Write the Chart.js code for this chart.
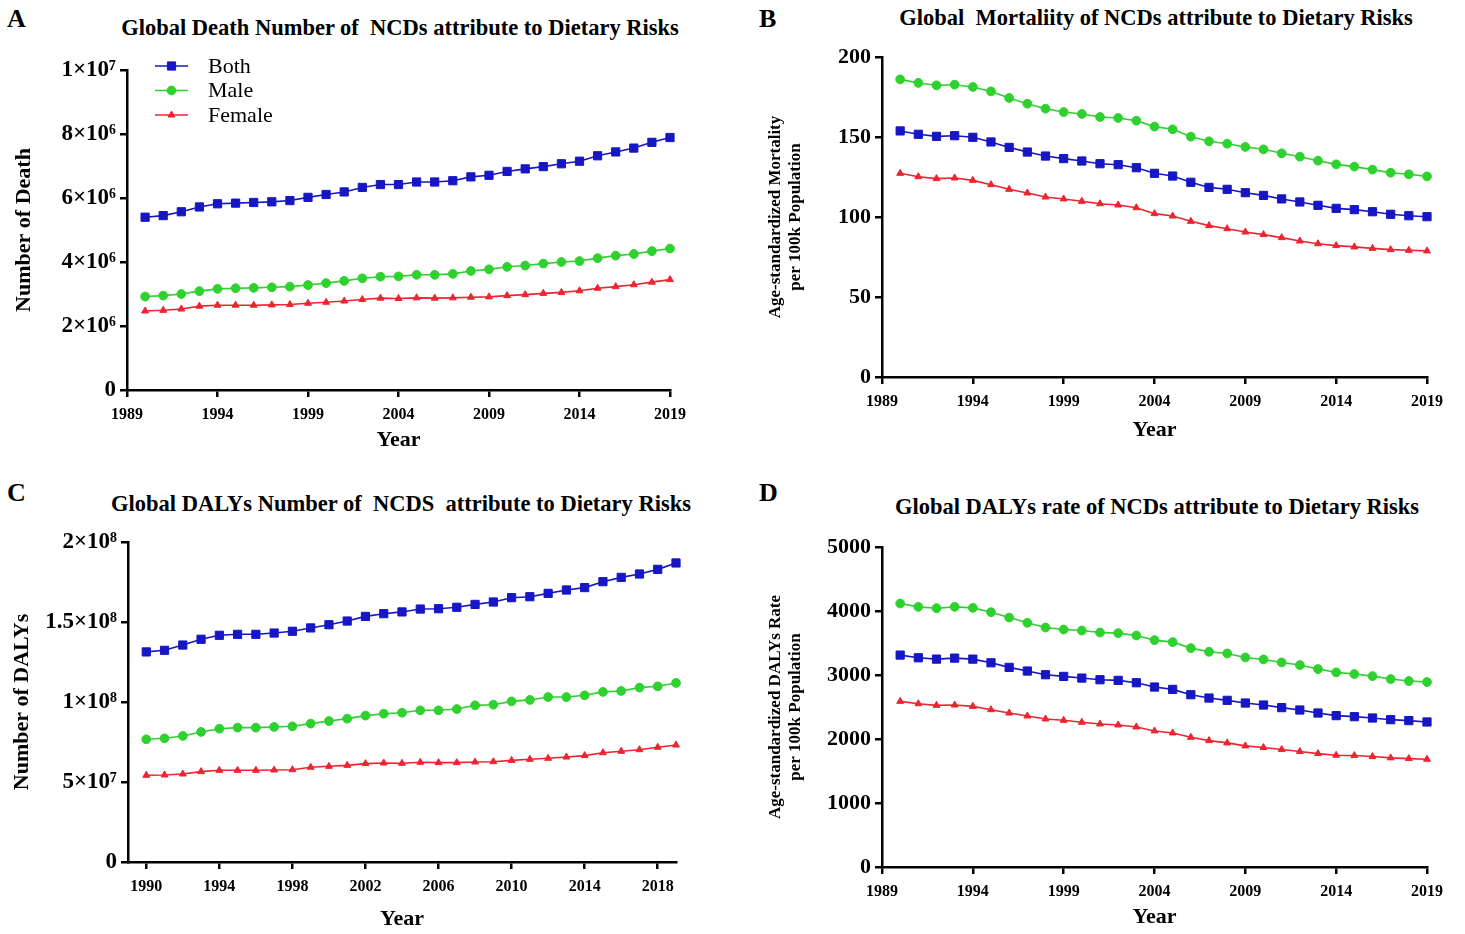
<!DOCTYPE html>
<html>
<head>
<meta charset="utf-8">
<script src="https://cdn.jsdelivr.net/npm/chart.js@4.4.0/dist/chart.umd.min.js"></script>
<style>
  body { margin: 0; background: #fff; width: 1465px; height: 934px; position: relative; overflow: hidden; font-family: "Liberation Serif", serif; }
  .panel { position: absolute; }
  .ttl { position: absolute; font-weight: bold; font-size: 22.5px; line-height: 1; white-space: pre; transform: translateX(-50%); }
  .lab { position: absolute; font-weight: bold; font-size: 26px; line-height: 1; }
</style>
</head>
<body>
<div class="lab" style="left:7px;top:6px">A</div>
<div class="lab" style="left:759px;top:6px">B</div>
<div class="lab" style="left:7px;top:480px">C</div>
<div class="lab" style="left:759px;top:480px">D</div>
<div class="ttl" style="left:400px;top:17px">Global Death Number of  NCDs attribute to Dietary Risks</div>
<div class="ttl" style="left:1156px;top:7px">Global  Mortaliity of NCDs attribute to Dietary Risks</div>
<div class="ttl" style="left:401px;top:493px">Global DALYs Number of  NCDS  attribute to Dietary Risks</div>
<div class="ttl" style="left:1157px;top:496px">Global DALYs rate of NCDs attribute to Dietary Risks</div>

<div class="panel" style="left:0;top:0;width:732px;height:467px"><canvas id="chartA"></canvas></div>
<div class="panel" style="left:732px;top:0;width:733px;height:467px"><canvas id="chartB"></canvas></div>
<div class="panel" style="left:0;top:467px;width:732px;height:467px"><canvas id="chartC"></canvas></div>
<div class="panel" style="left:732px;top:467px;width:733px;height:467px"><canvas id="chartD"></canvas></div>

<script>
const years = [1990, 1991, 1992, 1993, 1994, 1995, 1996, 1997, 1998, 1999,
               2000, 2001, 2002, 2003, 2004, 2005, 2006, 2007, 2008, 2009,
               2010, 2011, 2012, 2013, 2014, 2015, 2016, 2017, 2018, 2019];
const seriesNames = ['Both', 'Male', 'Female'];

// A: number of deaths
const deathBoth = [5.40e6, 5.45e6, 5.57e6, 5.72e6, 5.82e6, 5.84e6, 5.86e6, 5.88e6, 5.92e6, 6.02e6,
                   6.11e6, 6.19e6, 6.33e6, 6.42e6, 6.42e6, 6.50e6, 6.50e6, 6.54e6, 6.66e6, 6.71e6,
                   6.83e6, 6.91e6, 6.98e6, 7.07e6, 7.15e6, 7.32e6, 7.44e6, 7.56e6, 7.74e6, 7.89e6];
const deathMale = [2.92e6, 2.95e6, 3.00e6, 3.09e6, 3.16e6, 3.18e6, 3.19e6, 3.21e6, 3.23e6, 3.28e6,
                   3.34e6, 3.41e6, 3.49e6, 3.54e6, 3.55e6, 3.60e6, 3.60e6, 3.63e6, 3.72e6, 3.77e6,
                   3.85e6, 3.89e6, 3.95e6, 4.00e6, 4.03e6, 4.12e6, 4.20e6, 4.25e6, 4.34e6, 4.42e6];
const deathFemale = [2.47e6, 2.49e6, 2.53e6, 2.62e6, 2.65e6, 2.65e6, 2.65e6, 2.66e6, 2.67e6, 2.71e6,
                     2.74e6, 2.78e6, 2.83e6, 2.87e6, 2.86e6, 2.88e6, 2.87e6, 2.88e6, 2.90e6, 2.91e6,
                     2.95e6, 2.98e6, 3.02e6, 3.05e6, 3.10e6, 3.18e6, 3.23e6, 3.29e6, 3.37e6, 3.45e6];

// B: age-standardized mortality per 100k
const mortBoth = [153.8, 151.7, 150.4, 150.8, 149.8, 146.9, 143.5, 140.6, 138.1, 136.5,
                  135.0, 133.3, 132.7, 130.8, 127.3, 125.6, 121.7, 118.5, 117.3, 115.2,
                  113.5, 111.3, 109.4, 107.3, 105.4, 104.6, 103.3, 101.7, 100.8, 100.2];
const mortMale = [186.0, 183.8, 182.3, 182.7, 181.3, 178.5, 174.4, 170.8, 167.7, 165.6,
                  164.4, 162.5, 161.9, 160.2, 156.5, 154.8, 150.2, 147.3, 145.8, 143.8,
                  142.3, 139.8, 137.7, 135.2, 132.9, 131.5, 129.6, 127.7, 126.7, 125.4];
const mortFemale = [127.3, 125.2, 124.0, 124.4, 122.9, 120.2, 117.3, 115.0, 112.5, 111.3,
                    109.8, 108.3, 107.5, 105.8, 102.1, 100.6, 97.3, 94.6, 92.7, 90.6,
                    89.0, 87.1, 85.0, 83.3, 82.1, 81.3, 80.4, 79.6, 79.2, 78.8];

// C: number of DALYs
const dalyBoth = [131.3e6, 132.3e6, 135.6e6, 139.2e6, 141.7e6, 142.3e6, 142.3e6, 143.1e6, 144.2e6, 146.3e6,
                  148.3e6, 150.6e6, 153.5e6, 155.2e6, 156.3e6, 158.1e6, 158.3e6, 159.2e6, 161.0e6, 162.5e6,
                  165.2e6, 165.8e6, 167.9e6, 170.0e6, 171.5e6, 175.2e6, 177.9e6, 180.0e6, 182.9e6, 186.9e6];
const dalyMale = [76.7e6, 77.3e6, 78.8e6, 81.3e6, 83.3e6, 84.0e6, 84.0e6, 84.4e6, 84.8e6, 86.5e6,
                  88.1e6, 89.6e6, 91.5e6, 92.7e6, 93.3e6, 94.8e6, 94.8e6, 95.6e6, 97.9e6, 98.3e6,
                  100.4e6, 101.3e6, 103.1e6, 103.1e6, 104.2e6, 106.3e6, 106.9e6, 109.0e6, 109.8e6, 111.9e6];
const dalyFemale = [54.2e6, 54.4e6, 55.0e6, 56.5e6, 57.3e6, 57.3e6, 57.3e6, 57.5e6, 57.7e6, 59.2e6,
                    59.8e6, 60.4e6, 61.5e6, 61.9e6, 61.7e6, 62.3e6, 62.1e6, 62.1e6, 62.5e6, 62.7e6,
                    63.5e6, 64.2e6, 64.8e6, 65.6e6, 66.5e6, 68.3e6, 69.2e6, 70.2e6, 71.7e6, 73.1e6];

// D: age-standardized DALYs rate per 100k
const rateBoth = [3311, 3269, 3248, 3264, 3248, 3191, 3119, 3062, 3004, 2978,
                  2952, 2926, 2916, 2879, 2812, 2775, 2692, 2640, 2604, 2562,
                  2531, 2490, 2453, 2406, 2365, 2349, 2328, 2302, 2287, 2266];
const rateMale = [4117, 4065, 4044, 4065, 4049, 3981, 3898, 3815, 3742, 3711,
                  3695, 3664, 3654, 3617, 3545, 3514, 3420, 3363, 3337, 3274,
                  3243, 3196, 3155, 3093, 3041, 3015, 2983, 2937, 2906, 2890];
const rateFemale = [2588, 2552, 2526, 2531, 2510, 2458, 2406, 2360, 2313, 2292,
                    2261, 2235, 2219, 2188, 2126, 2095, 2027, 1975, 1939, 1892,
                    1866, 1835, 1804, 1772, 1746, 1741, 1726, 1705, 1694, 1684];

const cYearTicks = [1990, 1994, 1998, 2002, 2006, 2010, 2014, 2018];

Chart.defaults.font.family = '"Liberation Serif", "Times New Roman", serif';
Chart.defaults.font.weight = 'bold';
Chart.defaults.color = '#000';

const colors = ['#1616c4', '#2ed12e', '#ee2430'];
const styles = ['rect', 'circle', 'triangle'];
const radii = [5.8, 4.4, 4];

const sup = { '0': '⁰', '1': '¹', '2': '²', '3': '³', '4': '⁴', '5': '⁵', '6': '⁶', '7': '⁷', '8': '⁸', '9': '⁹' };
function sci(v) {
    if (v === 0) return '0';
    const e = Math.floor(Math.log10(v) + 1e-9);
    const m = +(v / Math.pow(10, e)).toFixed(2);
    return m + '×10' + String(e).split('').map(c => sup[c]).join('');
}

function makeSets(arrs) {
    return arrs.map((arr, i) => ({
        label: seriesNames[i],
        data: years.map((x, j) => ({ x: x, y: arr[j] })),
        borderColor: colors[i],
        backgroundColor: colors[i],
        borderWidth: 1.6,
        pointStyle: styles[i],
        pointRadius: radii[i],
        pointBorderWidth: 1,
        tension: 0,
        clip: false
    }));
}

// legend drawn inside the plot of panel A
const insideLegend = {
    id: 'insideLegend',
    afterDatasetsDraw(chart) {
        const ctx = chart.ctx;
        const x0 = chart.chartArea.left + 28;
        let y = chart.chartArea.top - 4;
        chart.data.datasets.forEach(d => {
            ctx.save();
            ctx.strokeStyle = d.borderColor;
            ctx.fillStyle = d.backgroundColor;
            ctx.lineWidth = 1.6;
            ctx.beginPath();
            ctx.moveTo(x0, y);
            ctx.lineTo(x0 + 33, y);
            ctx.stroke();
            ctx.lineWidth = 1;
            Chart.helpers.drawPoint(ctx, { pointStyle: d.pointStyle, radius: d.pointRadius, borderWidth: 1 }, x0 + 16.5, y);
            ctx.fillStyle = '#000';
            ctx.font = '22px "Liberation Serif"';
            ctx.textBaseline = 'middle';
            ctx.fillText(d.label, x0 + 53, y + 1);
            ctx.restore();
            y += 24.5;
        });
    }
};

function makeChart(id, cfg) {
    const xs = {
        type: 'linear',
        min: 1989,
        max: 2019,
        ticks: { stepSize: 5, autoSkip: false, maxRotation: 0, padding: 8, font: { size: 16, weight: 'bold' }, callback: v => String(v) },
        grid: { drawOnChartArea: false, color: '#000', lineWidth: 2.5, tickLength: 7 },
        border: { color: '#000', width: 2.5 },
        title: { display: true, text: 'Year', font: { size: 22, weight: 'bold' }, padding: { top: 0, bottom: cfg.xTitlePad } },
        afterFit: s => { s.height = cfg.xHeight; }
    };
    if (cfg.xTicks) {
        xs.afterBuildTicks = s => { s.ticks = cfg.xTicks.map(v => ({ value: v })); };
    }
    const ys = {
        min: 0,
        max: cfg.yMax,
        ticks: { stepSize: cfg.yStep, padding: 4, font: { size: cfg.yTickSize, weight: 'bold' }, callback: cfg.yFmt },
        grid: { drawOnChartArea: false, color: '#000', lineWidth: 2.5, tickLength: 7 },
        border: { color: '#000', width: 2.5 },
        title: { display: true, text: cfg.yTitle, font: { size: cfg.yTitleSize, weight: 'bold', lineHeight: cfg.yTitleLH }, padding: { top: cfg.yTitlePad, bottom: 0 } },
        afterFit: s => { s.width = cfg.yWidth; }
    };
    return new Chart(document.getElementById(id), {
        type: 'line',
        data: { datasets: makeSets(cfg.series) },
        options: {
            responsive: true,
            maintainAspectRatio: false,
            animation: false,
            layout: { padding: { top: cfg.padTop, right: cfg.padRight, left: 0, bottom: 0 } },
            scales: { x: xs, y: ys },
            plugins: { legend: { display: false }, tooltip: { enabled: false } }
        },
        plugins: cfg.legend ? [insideLegend] : []
    });
}

makeChart('chartA', {
    series: [deathBoth, deathMale, deathFemale],
    yMax: 1e7, yStep: 2e6, yFmt: sci, yTickSize: 23,
    yTitle: 'Number of Death', yTitleSize: 22, yTitleLH: 1.2, yTitlePad: 11, yWidth: 127,
    xHeight: 77, xTitlePad: 13, padTop: 70, padRight: 62, legend: true
});
makeChart('chartB', {
    series: [mortBoth, mortMale, mortFemale],
    yMax: 200, yStep: 50, yFmt: v => String(v), yTickSize: 22,
    yTitle: ['Age-standardized Mortality', 'per 100k Population'], yTitleSize: 17, yTitleLH: '20px', yTitlePad: 34, yWidth: 150,
    xHeight: 90, xTitlePad: 23, padTop: 57, padRight: 38
});
makeChart('chartC', {
    series: [dalyBoth, dalyMale, dalyFemale],
    yMax: 2e8, yStep: 5e7, yFmt: sci, yTickSize: 23,
    yTitle: 'Number of DALYs', yTitleSize: 22, yTitleLH: 1.2, yTitlePad: 9, yWidth: 128,
    xHeight: 72, xTitlePad: 1, padTop: 75, padRight: 56, xTicks: cYearTicks
});
makeChart('chartD', {
    series: [rateBoth, rateMale, rateFemale],
    yMax: 5000, yStep: 1000, yFmt: v => String(v), yTickSize: 22,
    yTitle: ['Age-standardized DALYs Rate', 'per 100k Population'], yTitleSize: 17, yTitleLH: '20px', yTitlePad: 34, yWidth: 150,
    xHeight: 67, xTitlePad: 3, padTop: 80, padRight: 38
});
</script>
</body>
</html>
